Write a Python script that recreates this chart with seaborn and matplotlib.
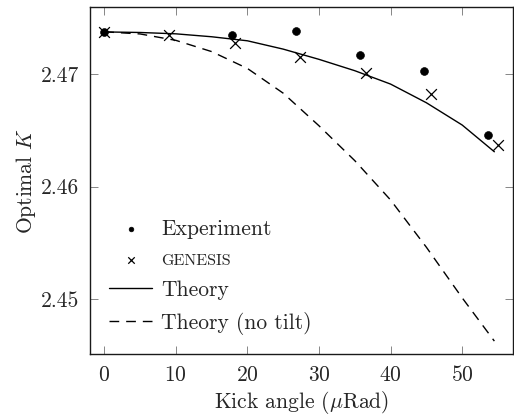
import numpy as np
import seaborn as sns
import matplotlib
matplotlib.use("Agg")
import matplotlib.pyplot as plt

# data
exp_kick = [0.0, 17.9, 26.8, 35.7, 44.6, 53.6]
exp_K = [2.47376, 2.47349, 2.47379, 2.47172, 2.47024, 2.46455]
exp_err = [0.00004, 0.00005, 0.00005, 0.00009, 0.00011, 0.00015]

gen_kick = [0.0, 9.1, 18.3, 27.4, 36.6, 45.7, 55.0]
gen_K = [2.47376, 2.47349, 2.47278, 2.47154, 2.47012, 2.46822, 2.46369]

th_kick = [0.0, 5, 10, 15, 20, 25, 30, 35, 40, 45, 50, 54.5]
th_K = [2.47375, 2.47370, 2.47358, 2.47332, 2.47296, 2.47222, 2.47131, 2.47030,
        2.46911, 2.46745, 2.46547, 2.46309]

nt_kick = [0.0, 5, 10, 15, 20, 25, 30, 35, 40, 45, 50, 54.5]
nt_K = [2.47376, 2.47357, 2.47300, 2.47200, 2.47050, 2.46830, 2.46540, 2.46230,
        2.45880, 2.45460, 2.45010, 2.44625]

sns.set_style("ticks")
plt.rcParams['font.family'] = ['cmr10', 'DejaVu Serif']
plt.rcParams['mathtext.fontset'] = 'cm'
plt.rcParams['axes.formatter.use_mathtext'] = True

fig = plt.figure(figsize=(5.14, 4.16), dpi=100)
ax = fig.add_axes([0.175, 0.149, 0.823, 0.834])

ax.errorbar(exp_kick, exp_K, yerr=exp_err, fmt='none', ecolor='k', elinewidth=1, capsize=2)
sns.scatterplot(x=exp_kick, y=exp_K, ax=ax, color='k', marker='o', s=32,
                edgecolor='k', label='Experiment', zorder=3)
sns.scatterplot(x=gen_kick, y=gen_K, ax=ax, color='k', marker='x', s=60,
                linewidth=0.9, label='GENESIS', zorder=3)
sns.lineplot(x=th_kick, y=th_K, ax=ax, color='k', lw=1.0, label='Theory')
sns.lineplot(x=nt_kick, y=nt_K, ax=ax, color='k', lw=1.0, linestyle=(0, (7, 5)),
             label='Theory (no tilt)')

ax.set_xlim(-2.0, 57.1)
ax.set_ylim(2.4451, 2.47596)
ax.set_xticks([0, 10, 20, 30, 40, 50])
ax.set_yticks([2.45, 2.46, 2.47])
ax.set_yticklabels(['2.45', '2.46', '2.47'])
ax.tick_params(direction='in', top=True, right=True, length=6, width=0.6,
               labelsize=15.5, color='0.45', pad=8)
for s in ax.spines.values():
    s.set_linewidth(1.0)
    s.set_color('0.1')

ax.set_xlabel(r'Kick angle ($\mu$Rad)', fontsize=15.5, labelpad=3)
ax.set_ylabel(r'Optimal $K$', fontsize=15.5, labelpad=2)

leg = ax.legend(loc='lower left', bbox_to_anchor=(0.0, 0.0), frameon=False,
                fontsize=15.5, handlelength=2.0, handletextpad=0.4,
                labelspacing=0.55, markerscale=0.6)
leg.get_texts()[1].set_fontsize(11.5)

fig.savefig('out.png', dpi=100)
